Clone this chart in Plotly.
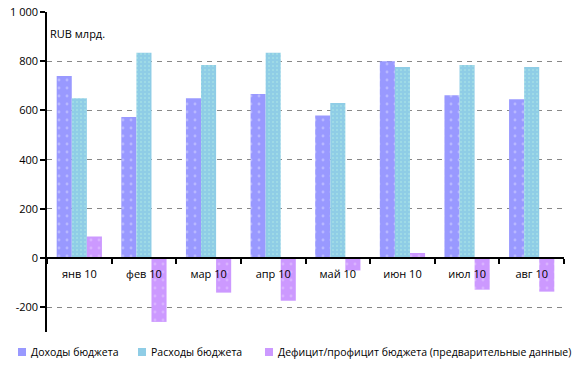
import plotly.graph_objects as go

categories = ["янв 10", "фев 10", "мар 10", "апр 10", "май 10", "июн 10", "июл 10", "авг 10"]
revenue = [740, 573, 650, 667, 580, 800, 662, 646]
expenses = [650, 834, 785, 834, 630, 777, 785, 777]
deficit = [88, -259, -140, -173, -50, 21, -128, -136]
series_names = ["Доходы бюджета", "Расходы бюджета", "Дефицит/профицит бюджета (предварительные данные)"]
series_colors = ["#9999FF", "#8FCDE6", "#CC99FF"]
y_ticks = [-200, 0, 200, 400, 600, 800, 1000]
y_ticktext = ["-200", "0", "200", "400", "600", "800", "1 000"]

font = "Open Sans, Noto Sans, sans-serif"

W, H = 585, 374
PL, PR, PT, PB = 47, 564, 12, 332          # plot area in page pixels
ML, MR, MT, MB = PL, W - PR, PT, H - PB
PW, PH = PR - PL, PB - PT


def px_x(px):
    return (px - PL) / PW


def px_y(py):
    return (PB - py) / PH


fig = go.Figure()
patterns = [dict(shape=".", fgcolor="#d8d8ff", size=8, solidity=0.1),
            dict(shape=".", fgcolor="#b8f0e8", size=4, solidity=0.2),
            dict(shape=".", fgcolor="#e6ccff", size=8, solidity=0.1)]
for name, vals, col, pat in zip(series_names, [revenue, expenses, deficit], series_colors, patterns):
    fig.add_bar(x=categories, y=vals, name=name, showlegend=False,
                marker=dict(color=col, line=dict(width=0), pattern=pat))

y0 = 300 / 1300

# manual legend
legend_sq_x = [18, 138, 265]
shapes = []
annotations = []
for name, col, sx in zip(series_names, series_colors, legend_sq_x):
    shapes.append(dict(type="rect", xref="paper", yref="paper",
                       x0=px_x(sx), x1=px_x(sx + 8), y0=px_y(356), y1=px_y(348),
                       fillcolor=col, line=dict(width=0)))
    annotations.append(dict(text=name, xref="paper", yref="paper",
                            x=px_x(sx + 11), y=px_y(352), xanchor="left", yanchor="middle",
                            showarrow=False, font=dict(size=10.5)))
annotations.append(dict(text="RUB млрд.", x=px_x(48), y=px_y(34), xref="paper", yref="paper",
                        xanchor="left", yanchor="middle", showarrow=False,
                        font=dict(size=11)))

fig.update_layout(
    width=W, height=H,
    margin=dict(l=ML, r=MR, t=MT, b=MB, autoexpand=False),
    plot_bgcolor="white", paper_bgcolor="white",
    barmode="group", bargap=0.3, bargroupgap=0,
    font=dict(family=font, size=11, color="#000"),
    showlegend=False,
    xaxis=dict(showgrid=False, showline=True, linecolor="#000", linewidth=1.5,
               anchor="free", position=y0, ticks="outside", tickson="boundaries",
               ticklen=5, tickcolor="#000", tickwidth=1.5, ticklabelstandoff=6,
               tickfont=dict(size=11), zeroline=False, automargin=False),
    yaxis=dict(range=[-300, 1000], tickvals=y_ticks, ticktext=y_ticktext,
               showgrid=True, gridcolor="#888", griddash="5px,5px", gridwidth=1,
               showline=True, linecolor="#000", linewidth=1.5,
               ticks="outside", ticklen=5, tickcolor="#000", tickwidth=1.5,
               zeroline=False, tickfont=dict(size=11), automargin=False,
               ticklabeloverflow="allow"),
    shapes=shapes,
    annotations=annotations,
)

fig.write_html("out.html", config={"displayModeBar": False},
               post_script="document.body.style.margin='0';")
